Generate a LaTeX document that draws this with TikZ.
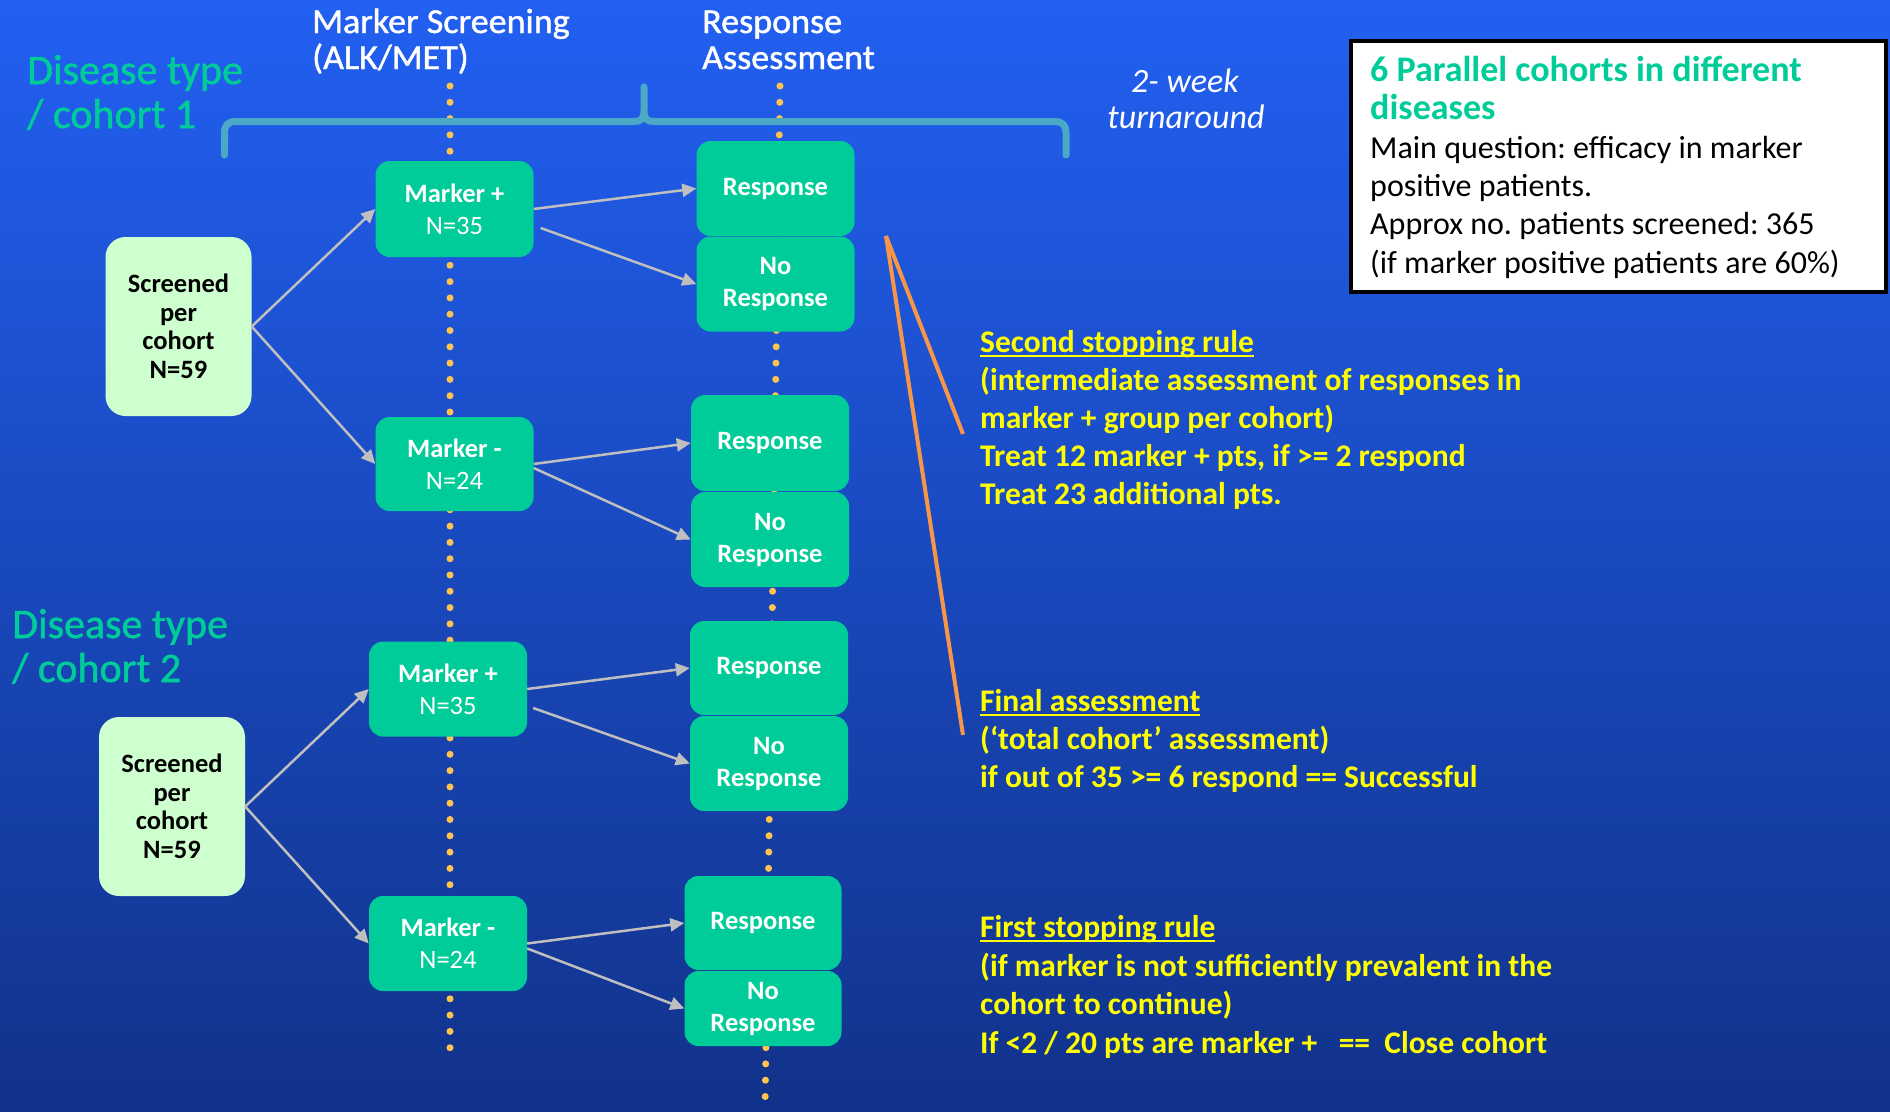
\documentclass[tikz,border=0pt]{standalone}
\usepackage{fontspec}
\setmainfont{Carlito}
\newfontfamily\hdrfont[FakeStretch=1.03,FakeBold=1.2]{Carlito}
\newfontfamily\disfont[FakeBold=1.2]{Carlito}
\usetikzlibrary{arrows.meta,calc}
\definecolor{bgtop}{RGB}{34,96,242}
\definecolor{bgbot}{RGB}{17,50,138}
\definecolor{boxg}{RGB}{0,204,153}
\definecolor{scrg}{RGB}{206,255,206}
\definecolor{dotc}{RGB}{255,196,80}
\definecolor{agrey}{RGB}{191,191,191}
\definecolor{bracec}{RGB}{75,168,198}
\definecolor{orng}{RGB}{247,150,70}
\definecolor{yel}{RGB}{255,255,0}
\newcommand\myul[1]{\setbox0\hbox{#1}\rlap{\rule[-5pt]{\wd0}{2.5pt}}\box0}
\tikzset{
  gbox/.style={draw=none, fill=boxg, rounded corners=14pt, minimum width=158pt, text=white,
    align=center, inner sep=0pt, font=\fontsize{26.5}{32}\selectfont\bfseries},
  sbox/.style={draw=none, fill=scrg, rounded corners=20pt, minimum width=146pt, minimum height=179pt,
    text=black, align=center, inner sep=0pt, font=\fontsize{26.5}{28.5}\selectfont\bfseries},
  arr/.style={draw=agrey, line width=2.5pt, -{Triangle[length=14pt,width=13pt]}},
  dotline/.style={draw=dotc, line width=7pt, line cap=round, dash pattern=on 0pt off 16.3pt},
  yl/.style={anchor=base west, inner sep=0pt, text=yel, font=\fontsize{31.5}{38}\selectfont\bfseries},
  hdr/.style={anchor=base west, inner sep=0pt, text=white, font=\fontsize{35}{36}\selectfont\hdrfont},
  dis/.style={anchor=base west, inner sep=0pt, text=boxg, font=\fontsize{42}{44}\selectfont\disfont},
  inf/.style={anchor=base west, inner sep=0pt, text=black, font=\fontsize{32}{38}\selectfont},
  infg/.style={anchor=base west, inner sep=0pt, text=boxg, font=\fontsize{36}{38}\selectfont\bfseries},
  orl/.style={draw=orng, line width=4pt},
}
\begin{document}
\frenchspacing
\begin{tikzpicture}[x=1pt,y=-1pt]
\useasboundingbox (0,0) rectangle (1890,1111);
\shade[top color=bgtop, bottom color=bgbot] (0,0) rectangle (1890,1111);

% dotted guide lines
\coordinate (d1t) at (450,86);
\coordinate (d1b) at (450,1063);
\coordinate (d2t) at (780,86);
\coordinate (d2b) at (765,1111);
\draw[dotline] (d1t) -- (d1b);
\draw[dotline] (d2t) -- (d2b);

% headers
\node[hdr] (h1a) at (312,33) {Marker Screening};
\node[hdr] (h1b) at (312,69) {(ALK/MET)};
\node[hdr] (h2a) at (702,33) {Response};
\node[hdr] (h2b) at (702,69) {Assessment};

\node[dis] (dt1a) at (27,84) {Disease type};
\node[dis] (dt1b) at (27,128) {/ cohort 1};
\node[dis] (dt2a) at (12,638) {Disease type};
\node[dis] (dt2b) at (12,682) {/ cohort 2};

\node[anchor=base, inner sep=0pt, text=white, font=\fontsize{34}{36}\selectfont\itshape] (tw1) at (1185,92) {2- week};
\node[anchor=base, inner sep=0pt, text=white, font=\fontsize{34}{36}\selectfont\itshape] (tw2) at (1186,128) {turnaround};

% brace
\draw[bracec, line width=7pt, line join=round, line cap=round]
  (224.5,155) -- (224.5,133) .. controls (224.5,125) and (228,121.5) .. (236,121.5)
  -- (634,121.5) .. controls (641,121.5) and (644,119) .. (644,110) -- (644,87)
  -- (644,110) .. controls (644,119) and (647,121.5) .. (654,121.5)
  -- (1055,121.5) .. controls (1062,121.5) and (1066,125) .. (1066,133) -- (1066,155);

% info box
\node[draw=black, line width=4pt, fill=white, minimum width=535pt, minimum height=251pt, inner sep=0pt] (info) at (1618.5,166.5) {};
\node[infg] (i1) at (1370,81) {6 Parallel cohorts in different};
\node[infg] (i2) at (1370,119) {diseases};
\node[inf] (i3) at (1370,158) {Main question: efficacy in marker};
\node[inf] (i4) at (1370,196) {positive patients.};
\node[inf] (i5) at (1370,234) {Approx no. patients screened: 365};
\node[inf] (i6) at (1370,273) {(if marker positive patients are 60\%)};

% cohort 1
\node[sbox] (s1) at (178.5,326.5) {Screened\\per\\cohort\\N=59};
\node[gbox, minimum height=96pt] (m1p) at (454.5,209) {Marker +\\\mdseries N=35};
\node[gbox, minimum height=94pt] (m1m) at (454.5,464) {Marker -\\\mdseries N=24};
\node[gbox, minimum height=95pt] (r1a) at (775.5,188.5) {Response};
\node[gbox, minimum height=95pt] (n1a) at (775.5,284) {No\\Response};
\node[gbox, minimum height=96pt] (r1b) at (770,443) {Response};
\node[gbox, minimum height=95pt] (n1b) at (770,539.5) {No\\Response};

% cohort 2
\node[sbox] (s2) at (172,806.5) {Screened\\per\\cohort\\N=59};
\node[gbox, minimum height=95pt] (m2p) at (448,689) {Marker +\\\mdseries N=35};
\node[gbox, minimum height=95pt] (m2m) at (448,943.5) {Marker -\\\mdseries N=24};
\node[gbox, minimum height=94pt] (r2a) at (769,668) {Response};
\node[gbox, minimum height=95pt] (n2a) at (769,763.5) {No\\Response};
\node[gbox, minimum height=94pt, minimum width=157pt] (r2b) at (763,923) {Response};
\node[gbox, minimum height=75pt, minimum width=157pt] (n2b) at (763,1008.5) {No\\Response};

% arrows
\draw[arr] (s1.east) -- (m1p.west);
\draw[arr] (s1.east) -- (m1m.west);
\draw[arr] (m1p.east) -- (r1a.west);
\draw[arr] ($(m1p.east)+(7,19)$) -- (n1a.west);
\draw[arr] (m1m.east) -- (r1b.west);
\draw[arr] ($(m1m.east)+(0,4)$) -- (n1b.west);
\draw[arr] (s2.east) -- (m2p.west);
\draw[arr] (s2.east) -- (m2m.west);
\draw[arr] (m2p.east) -- (r2a.west);
\draw[arr] ($(m2p.east)+(6,19)$) -- (n2a.west);
\draw[arr] (m2m.east) -- (r2b.west);
\draw[arr] ($(m2m.east)+(0,5)$) -- (n2b.west);

% orange pointer lines
\coordinate (oap) at (886,236);
\coordinate (oe1) at (963,434);
\coordinate (oe2) at (963,735);
\draw[orl] (oap) -- (oe1);
\draw[orl] (oap) -- (oe2);

% yellow notes
\node[yl] (ss1) at (980,352) {\myul{Second stopping rule}};
\node[yl] (ss2) at (980,390) {(intermediate assessment of responses in};
\node[yl] (ss3) at (980,428) {marker + group per cohort)};
\node[yl] (ss4) at (980,466) {Treat 12 marker + pts, if >= 2 respond};
\node[yl] (ss5) at (980,504) {Treat 23 additional pts.};

\node[yl] (fa1) at (980,711) {\myul{Final assessment}};
\node[yl] (fa2) at (980,749) {(‘total cohort’ assessment)};
\node[yl] (fa3) at (980,787) {if out of 35 >= 6 respond == Successful};

\node[yl] (fs1) at (980,937) {\myul{First stopping rule}};
\node[yl] (fs2) at (980,976) {(if marker is not sufficiently prevalent in the};
\node[yl] (fs3) at (980,1014) {cohort to continue)};
\node[yl] (fs4) at (980,1053) {If <2 / 20 pts are marker +\ \ \ ==\ \ Close cohort};
\end{tikzpicture}
\end{document}
